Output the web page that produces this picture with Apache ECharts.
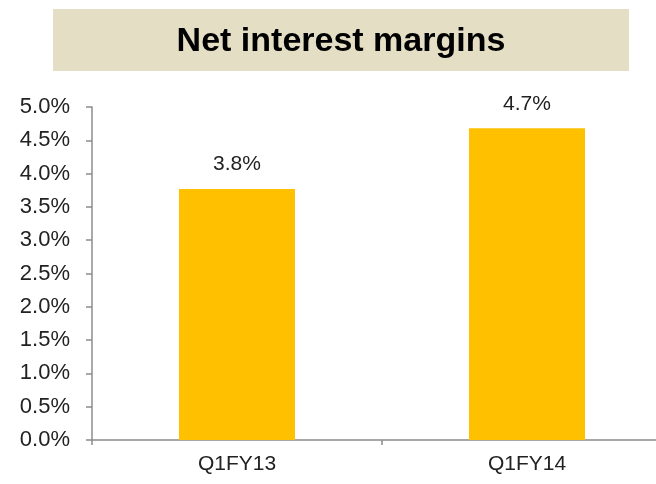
<!DOCTYPE html>
<html>
<head>
<meta charset="utf-8">
<script src="https://cdn.jsdelivr.net/npm/echarts@6/dist/echarts.min.js"></script>
<style>
  html, body { margin: 0; padding: 0; background: #fff; }
  #chartmain { width: 656px; height: 484px; }
</style>
</head>
<body>
<div id="chartmain"></div>
<script>
// data
var quarters = ['Q1FY13', 'Q1FY14'];
var nimValues = [3.77, 4.68];
var nimLabels = ['3.8%', '4.7%'];

var font = '"Liberation Sans", sans-serif';

var myChart = echarts.init(document.getElementById('chartmain'));

var option = {
    animation: false,
    backgroundColor: '#fff',
    // title box
    graphic: [{
        type: 'rect',
        shape: { x: 53, y: 9, width: 576, height: 62 },
        style: { fill: '#E4DEC4' },
        silent: true
    }, {
        type: 'text',
        x: 341,
        y: 42,
        style: {
            text: 'Net interest margins',
            fill: '#000',
            font: 'bold 34px "Liberation Sans", sans-serif',
            align: 'center',
            verticalAlign: 'middle'
        }
    }],
    // plot runs past the right edge in the reference
    grid: { left: 92, width: 580, top: 107, bottom: 44, containLabel: false, outerBoundsMode: 'none' },
    xAxis: {
        type: 'category',
        data: quarters,
        axisLine: { lineStyle: { color: '#8c8c8c', width: 1.5 } },
        axisTick: { show: true, length: 5, lineStyle: { color: '#8c8c8c', width: 1.5 } },
        axisLabel: { color: '#222', fontFamily: font, fontSize: 21, margin: 14 }
    },
    yAxis: {
        type: 'value',
        min: 0,
        max: 5,
        interval: 0.5,
        axisLine: { show: true, lineStyle: { color: '#8c8c8c', width: 1.5 } },
        axisTick: { show: true, length: 6, lineStyle: { color: '#8c8c8c', width: 1.5 } },
        splitLine: { show: false },
        axisLabel: {
            color: '#222', fontFamily: font, fontSize: 22, margin: 22,
            formatter: function (v) { return v.toFixed(1) + '%'; }
        }
    },
    series: [{
        type: 'bar',
        data: nimValues,
        barWidth: '40%',
        itemStyle: { color: '#FFC000' },
        label: {
            show: true,
            position: 'top',
            distance: 14,
            color: '#222',
            fontFamily: font,
            fontSize: 21,
            formatter: function (p) { return nimLabels[p.dataIndex]; }
        }
    }]
};

myChart.setOption(option);
</script>
</body>
</html>
